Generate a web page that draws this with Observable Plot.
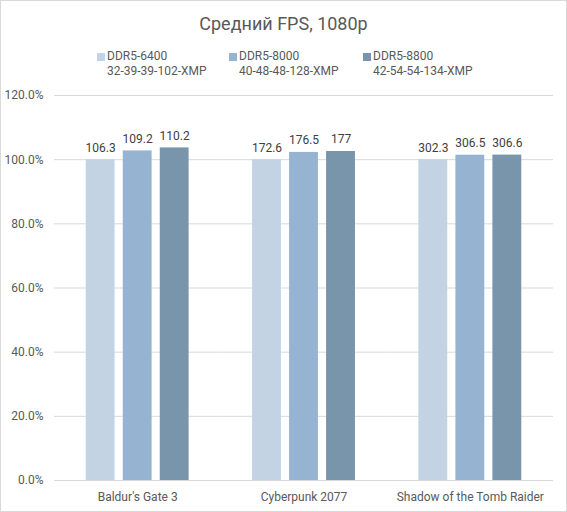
<!DOCTYPE html>
<html>
<head>
<meta charset="utf-8">
<script src="https://cdn.jsdelivr.net/npm/d3@7"></script>
<script src="https://cdn.jsdelivr.net/npm/@observablehq/plot@0.6"></script>
<style>
  html, body { margin: 0; padding: 0; background: #fff; }
  #wrap { position: relative; width: 565px; height: 510px; border: 1px solid #d9d9d9; font-family: Roboto, "Liberation Sans", sans-serif; color: #595959; overflow: hidden; }
  #title { position: absolute; left: 0; top: 12px; width: 565px; text-align: center; font-size: 18px; color: #595959; }
  .leg { position: absolute; top: 48px; font-size: 12px; line-height: 15px; color: #595959; }
  .leg .sw { position: absolute; left: -10px; top: 4px; width: 8px; height: 8px; }
  #chart { position: absolute; left: 0; top: 84px; }
</style>
</head>
<body>
<div id="wrap">
  <div id="title">Средний FPS, 1080p</div>
  <div id="legend"></div>
  <div id="chart"></div>
</div>
<script>
const games = ["Baldur's Gate 3", "Cyberpunk 2077", "Shadow of the Tomb Raider"];
const seriesNames = ["DDR5-6400", "DDR5-8000", "DDR5-8800"];
const seriesTimings = ["32-39-39-102-XMP", "40-48-48-128-XMP", "42-54-54-134-XMP"];
const colors = ["#c3d3e3", "#96b4d1", "#7995ab"];
const fps6400 = [106.3, 172.6, 302.3];
const fps8000 = [109.2, 176.5, 306.5];
const fps8800 = [110.2, 177, 306.6];
const yTicks = [0, 20, 40, 60, 80, 100, 120];
const legendLeft = [106, 238, 372];

const fpsBySeries = [fps6400, fps8000, fps8800];
const data = [];
games.forEach((g, gi) => {
  const base = fps6400[gi];
  seriesNames.forEach((s, si) => {
    const v = fpsBySeries[si][gi];
    data.push({game: g, series: s, fps: v, pct: v / base * 100});
  });
});

const legend = document.getElementById("legend");
seriesNames.forEach((s, i) => {
  const d = document.createElement("div");
  d.className = "leg";
  d.style.left = legendLeft[i] + "px";
  d.innerHTML = `<span class="sw" style="background:${colors[i]}"></span>${s}<br>${seriesTimings[i]}`;
  legend.appendChild(d);
});

const chart = Plot.plot({
  width: 565,
  height: 425,
  marginTop: 10,
  marginBottom: 30,
  marginLeft: 53,
  marginRight: 13,
  style: {fontFamily: "Roboto, 'Liberation Sans', sans-serif", fontSize: "12px", color: "#595959", background: "transparent"},
  fx: {domain: games, padding: 0, round: false, label: null, axis: "bottom", tickSize: 0, tickPadding: 12},
  x: {domain: seriesNames, paddingInner: 0.22, paddingOuter: 0.857, round: false, axis: null},
  y: {domain: [0, 120], ticks: yTicks, tickFormat: d => d.toFixed(1) + "%", label: null, tickSize: 0, tickPadding: 11},
  color: {domain: seriesNames, range: colors},
  marks: [
    Plot.ruleY(yTicks, {stroke: "#d9d9d9", strokeWidth: 1}),
    Plot.barY(data, {fx: "game", x: "series", y: "pct", fill: "series"}),
    Plot.text(data, {fx: "game", x: "series", y: "pct", text: d => String(d.fps), dy: -12, fill: "#404040", fontSize: 12})
  ]
});
document.getElementById("chart").appendChild(chart);
</script>
</body>
</html>
